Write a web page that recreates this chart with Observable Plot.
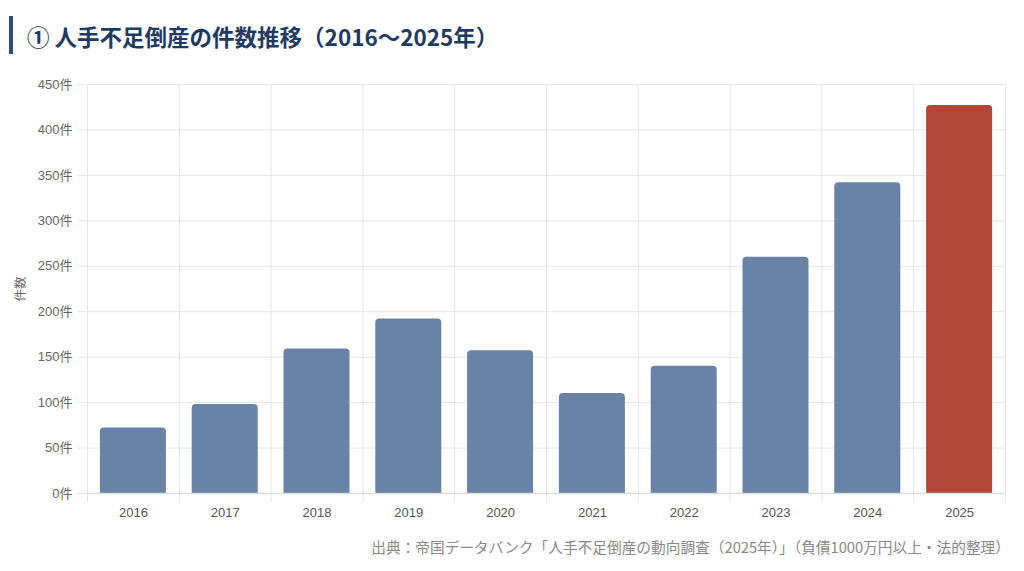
<!DOCTYPE html>
<html><head><meta charset="utf-8">
<script src="https://cdn.jsdelivr.net/npm/d3@7"></script>
<script src="https://cdn.jsdelivr.net/npm/@observablehq/plot@0.6"></script>
<style>
body{margin:0;background:#fff;width:1024px;height:571px;overflow:hidden;position:relative;font-family:"Noto Sans CJK JP",sans-serif;}
#mark{position:absolute;left:9px;top:16px;width:4px;height:38px;background:#2f4e7c}
#title{position:absolute;left:27px;top:18px;font-size:22.5px;font-weight:bold;color:#1f3a5f;line-height:36px;white-space:nowrap}
#chart{position:absolute;left:0;top:60px}
#caption{position:absolute;right:14px;top:536px;font-size:14.7px;color:#888;white-space:nowrap;line-height:22px}
</style></head><body>
<div id="mark"></div>
<div id="title">① 人手不足倒産の件数推移（2016〜2025年）</div>
<div id="chart"></div>
<div id="caption">出典：帝国データバンク「人手不足倒産の動向調査（2025年）」（負債1000万円以上・法的整理）</div>
<script>
const years = [2016, 2017, 2018, 2019, 2020, 2021, 2022, 2023, 2024, 2025];
const counts = [72, 98, 159, 192, 157, 110, 140, 260, 342, 427];
const yTicks = [0, 50, 100, 150, 200, 250, 300, 350, 400, 450];
const highlightYear = 2025;
const yLabel = "件数";

const data = years.map((y, i) => ({year: y, count: counts[i]}));
const edges = [...years.map(y => y - 0.5), years[years.length - 1] + 0.5];
const grid = "#e6e6e6";

const plot = Plot.plot({
  width: 1024,
  height: 470,
  marginLeft: 87,
  marginRight: 19,
  marginTop: 24,
  marginBottom: 37,
  style: {fontFamily: "'Liberation Sans', 'Noto Sans CJK JP', sans-serif", fontSize: "13px", background: "transparent"},
  x: {type: "linear", domain: [edges[0], edges[edges.length - 1]]},
  y: {domain: [0, 450]},
  marks: [
    Plot.gridY(yTicks, {stroke: grid, strokeOpacity: 1}),
    Plot.ruleX(edges, {x: d => d, y1: 450, y2: 0, insetBottom: -9, stroke: grid}),
    Plot.rect(data, {
      x1: d => d.year - 0.5, x2: d => d.year + 0.5, y1: 0, y2: d => d.count,
      insetLeft: 12.9, insetRight: 12.9,
      fill: d => d.year === highlightYear ? "#b24637" : "#6983a7",
      rx1y2: 4, rx2y2: 4
    }),
    Plot.ruleY([0], {stroke: "#dcdcdc", strokeWidth: 1.5}),
    Plot.axisY(yTicks, {tickSize: 10, tickPadding: 5, tickFormat: d => d + "件", stroke: grid, fill: "#666"}),
    Plot.axisY({ticks: [], tickSize: 0, label: yLabel, labelAnchor: "center", labelOffset: 71, labelArrow: "none", fill: "#666", fontSize: 12.5}),
    Plot.axisX(years, {tickSize: 0, tickPadding: 14, tickFormat: d => String(d), fill: "#555", label: null})
  ]
});
document.getElementById("chart").appendChild(plot);
</script>
</body></html>
